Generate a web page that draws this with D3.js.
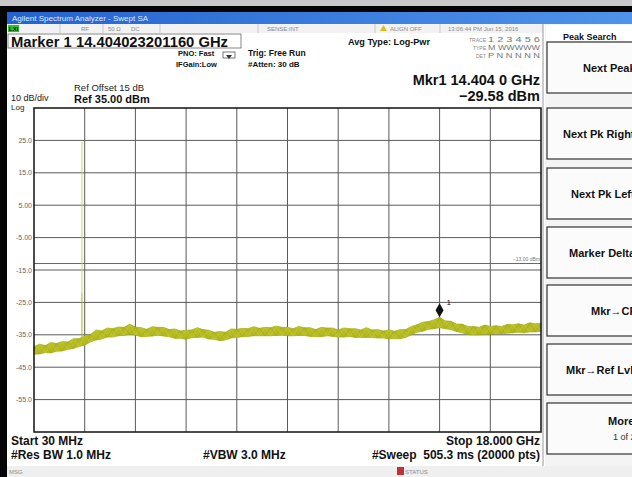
<!DOCTYPE html>
<html lang="en">
<head>
<meta charset="UTF-8">
<title>swept SA</title>
<script src="https://d3js.org/d3.v7.min.js"></script>
<style>
  body { margin: 0; background: #fff; }
  svg { display: block; font-family: "Liberation Sans", Arial, sans-serif; }
  .b { font-weight: bold; fill: #111; }
  .tiny { font-size: 6px; fill: #8a8a8a; }
  .ylab { font-size: 7px; fill: #666; }
  .grid line { stroke: #5a5a5a; stroke-width: 1; }
</style>
</head>
<body>
<svg id="sa" width="632" height="477"></svg>
<script>
// sweep settings
const startGHz = 0.03, stopGHz = 18.0;
const refDbm = 35, dbPerDiv = 10, divisions = 10;
const yTickValues = [25, 15, 5, -5, -15, -25, -35, -45, -55];
const yTickLabels = ["25.0", "15.0", "5.00", "-5.00", "-15.0", "-25.0", "-35.0", "-45.0", "-55.0"];
const displayLineDbm = -13;

// trace envelope, 91 evenly spaced points from start to stop (dBm)
const traceHi = [-38.6,-37.9,-38.3,-37.4,-37.7,-37.1,-37.2,-36.2,-36.2,-35.4,
  -35.0,-33.5,-33.8,-32.9,-33.1,-32.6,-32.7,-31.7,-32.6,-32.8,
  -33.3,-32.5,-32.7,-32.7,-33.4,-33.2,-33.8,-33.6,-33.5,-32.8,
  -33.4,-33.6,-34.2,-34.0,-34.2,-33.2,-33.3,-33.0,-33.1,-32.5,
  -33.0,-32.7,-32.8,-32.3,-32.7,-32.7,-33.1,-32.4,-32.8,-32.8,
  -33.4,-32.7,-32.9,-32.9,-33.5,-32.9,-33.1,-33.1,-33.5,-32.8,
  -33.5,-33.4,-33.8,-33.5,-33.9,-33.4,-33.4,-32.4,-31.9,-31.1,
  -30.9,-30.4,-29.6,-30.7,-30.8,-31.7,-31.7,-32.4,-32.4,-32.7,
  -32.0,-32.4,-32.2,-32.4,-31.8,-31.9,-31.6,-32.0,-31.3,-31.6,-31.4];
const traceLo = [-41.0,-40.9,-40.5,-40.6,-40.1,-40.0,-39.5,-39.2,-38.6,-38.2,
  -37.2,-36.6,-36.3,-35.7,-35.7,-35.3,-35.2,-34.8,-35.1,-35.6,
  -35.5,-35.4,-35.1,-35.4,-35.6,-36.1,-36.1,-36.4,-35.9,-35.8,
  -35.7,-36.3,-36.4,-36.8,-36.6,-36.0,-35.8,-35.6,-35.5,-35.3,
  -35.3,-35.3,-35.3,-35.2,-35.1,-35.3,-35.3,-35.2,-35.2,-35.5,
  -35.6,-35.6,-35.3,-35.5,-35.7,-35.7,-35.5,-35.8,-35.8,-35.8,
  -35.8,-36.0,-36.0,-36.2,-36.2,-36.2,-35.8,-35.0,-34.2,-33.9,
  -33.3,-33.1,-32.8,-33.1,-33.4,-34.0,-34.4,-34.9,-35.0,-35.0,
  -34.8,-34.8,-34.7,-34.7,-34.5,-34.4,-34.2,-34.4,-34.1,-34.1,-33.9];
const spikeGHz = [1.73];
const spikeDbm = [24.5];
const markerGHz = 14.404, markerDbm = -29.58;

const softkeys = ["Next Peak", "Next Pk Right", "Next Pk Left", "Marker Delta", "Mkr\u2192CF", "Mkr\u2192Ref Lvl", "More"];

const svg = d3.select("#sa");
const plot = {left: 34, right: 541, top: 108, bottom: 432};
const x = d3.scaleLinear().domain([startGHz, stopGHz]).range([plot.left, plot.right]);
const y = d3.scaleLinear().domain([refDbm - dbPerDiv * divisions, refDbm]).range([plot.bottom, plot.top]);

// ---- window chrome ----
svg.append("rect").attr("width", 632).attr("height", 477).attr("fill", "#fff");
svg.append("rect").attr("width", 632).attr("height", 6).attr("fill", "#c9c9c9");
svg.append("rect").attr("y", 6).attr("width", 632).attr("height", 6).attr("fill", "#050505");
svg.append("rect").attr("y", 6).attr("width", 7).attr("height", 471).attr("fill", "#050505");

const grad = svg.append("defs").append("linearGradient").attr("id", "tb");
grad.append("stop").attr("offset", "0").attr("stop-color", "#2463cf");
grad.append("stop").attr("offset", "1").attr("stop-color", "#4f94ea");
svg.append("rect").attr("x", 7).attr("y", 12).attr("width", 625).attr("height", 12).attr("fill", "url(#tb)");
svg.append("text").attr("x", 12).attr("y", 21).attr("font-size", 8)
  .attr("fill", "#dfe9ff").text("Agilent Spectrum Analyzer - Swept SA");

// status row
svg.append("rect").attr("x", 7).attr("y", 24).attr("width", 536).attr("height", 9).attr("fill", "#f2f2f2");
svg.append("rect").attr("x", 8).attr("y", 25).attr("width", 11).attr("height", 7).attr("fill", "#2fc12f");
svg.append("text").attr("x", 9).attr("y", 31).attr("font-size", 6).attr("font-weight", "bold").attr("fill", "#1a1a1a").text("LXI");
[60, 103, 160, 258, 375, 440].forEach(sx => {
  svg.append("line").attr("x1", sx).attr("x2", sx).attr("y1", 24).attr("y2", 33).attr("stroke", "#c8c8c8");
});
[["RF", 81], ["50 \u03A9", 108], ["DC", 131], ["SENSE:INT", 267], ["ALIGN OFF", 390], ["13:06:44 PM Jun 15, 2016", 448]]
  .forEach(d => svg.append("text").attr("class", "tiny").attr("x", d[1]).attr("y", 31).text(d[0]));
svg.append("path").attr("d", "M380,31 L383.5,25 L387,31 Z").attr("fill", "#d8c21a");

// ---- annotation text ----
svg.append("rect").attr("x", 8).attr("y", 34).attr("width", 233).attr("height", 14)
  .attr("fill", "#fff").attr("stroke", "#666").attr("stroke-width", 0.8);
svg.append("text").attr("class", "b").attr("x", 11).attr("y", 46.5).attr("font-size", 14)
  .attr("textLength", 217).attr("lengthAdjust", "spacingAndGlyphs").text("Marker 1 14.404023201160 GHz");

svg.append("text").attr("class", "b").attr("x", 178).attr("y", 56).attr("font-size", 7.5).text("PNO: Fast");
svg.append("text").attr("class", "b").attr("x", 176).attr("y", 67).attr("font-size", 7.5).text("IFGain:Low");
svg.append("rect").attr("x", 223).attr("y", 52).attr("width", 12).attr("height", 6).attr("fill", "none").attr("stroke", "#555").attr("stroke-width", 0.8);
svg.append("path").attr("d", "M226,55 L232,55 L229,59 Z").attr("fill", "#333");
svg.append("text").attr("class", "b").attr("x", 248).attr("y", 56).attr("font-size", 8.5).text("Trig: Free Run");
svg.append("text").attr("class", "b").attr("x", 248).attr("y", 67).attr("font-size", 8).text("#Atten: 30 dB");
svg.append("text").attr("class", "b").attr("x", 348).attr("y", 45).attr("font-size", 8.5)
  .attr("textLength", 82).attr("lengthAdjust", "spacingAndGlyphs").text("Avg Type: Log-Pwr");

[["TRACE", "1 2 3 4 5 6", 42], ["TYPE", "M WWWWW", 50], ["DET", "P N N N N N", 58]].forEach(d => {
  svg.append("text").attr("x", 486).attr("y", d[2]).attr("font-size", 5).attr("fill", "#888").attr("text-anchor", "end").text(d[0]);
  svg.append("text").attr("x", 488).attr("y", d[2]).attr("font-size", 7).attr("fill", "#777")
    .attr("textLength", 52).attr("lengthAdjust", "spacingAndGlyphs").text(d[1]);
});

svg.append("text").attr("class", "b").attr("x", 540).attr("y", 85).attr("font-size", 14.5)
  .attr("text-anchor", "end").text("Mkr1 14.404 0 GHz");
svg.append("text").attr("class", "b").attr("x", 540).attr("y", 101).attr("font-size", 14.5)
  .attr("text-anchor", "end").text(d3.format(".2f")(markerDbm) + " dBm");

svg.append("text").attr("x", 74).attr("y", 91).attr("font-size", 9.5).attr("fill", "#222").text("Ref Offset 15 dB");
svg.append("text").attr("class", "b").attr("x", 74).attr("y", 102.5).attr("font-size", 11).text("Ref 35.00 dBm");
svg.append("text").attr("x", 11).attr("y", 101).attr("font-size", 9).attr("fill", "#222").text("10 dB/div");
svg.append("text").attr("x", 11).attr("y", 109.5).attr("font-size", 8).attr("fill", "#222").text("Log");

// ---- graticule ----
const grid = svg.append("g").attr("class", "grid");
const xDivs = d3.range(1, divisions).map(k => startGHz + k * (stopGHz - startGHz) / divisions);
grid.selectAll(".v").data(xDivs).join("line").attr("class", "v")
  .attr("x1", d => x(d)).attr("x2", d => x(d)).attr("y1", plot.top).attr("y2", plot.bottom);
grid.selectAll(".h").data(yTickValues).join("line").attr("class", "h")
  .attr("x1", plot.left).attr("x2", plot.right).attr("y1", d => y(d)).attr("y2", d => y(d));

svg.append("line").attr("x1", plot.left).attr("x2", plot.right)
  .attr("y1", y(displayLineDbm)).attr("y2", y(displayLineDbm)).attr("stroke", "#666").attr("stroke-width", 1);
svg.append("text").attr("x", plot.right - 1).attr("y", y(displayLineDbm) - 3).attr("font-size", 5)
  .attr("text-anchor", "end").attr("fill", "#777").text(d3.format(".2f")(displayLineDbm) + " dBm");

svg.selectAll(".ylab").data(yTickValues).join("text").attr("class", "ylab")
  .attr("x", plot.left - 2).attr("y", d => y(d) + 2.5).attr("text-anchor", "end")
  .text((d, i) => yTickLabels[i]);

// ---- trace ----
const fAt = i => startGHz + i * (stopGHz - startGHz) / (traceHi.length - 1);
const trace = svg.append("g");
spikeGHz.forEach((f, i) => {
  trace.append("line").attr("x1", x(f)).attr("x2", x(f)).attr("y1", y(spikeDbm[i])).attr("y2", y(-22))
    .attr("stroke", "#c9cf6a").attr("stroke-width", 0.9);
  trace.append("line").attr("x1", x(f)).attr("x2", x(f)).attr("y1", y(-22)).attr("y2", y(-38))
    .attr("stroke", "#a9b41a").attr("stroke-width", 1);
});
const band = d3.area().x((d, i) => x(fAt(i))).y0((d, i) => y(traceLo[i])).y1(d => y(d));
trace.append("path").datum(traceHi).attr("d", band)
  .attr("fill", "#b6bc22").attr("stroke", "#a3aa14").attr("stroke-width", 0.7);
[0, 1].forEach(phase => {
  const zig = traceHi.map((d, i) => [x(fAt(i)), y((i + phase) % 2 ? traceLo[i] : d)]);
  trace.append("path").attr("d", d3.line()(zig)).attr("fill", "none")
    .attr("stroke", phase ? "#c4c83a" : "#a2aa10").attr("stroke-width", 0.7);
});

// plot frame
svg.append("rect").attr("x", plot.left).attr("y", plot.top)
  .attr("width", plot.right - plot.left).attr("height", plot.bottom - plot.top)
  .attr("fill", "none").attr("stroke", "#111").attr("stroke-width", 1.5);

// marker
const mx = x(markerGHz), my = y(markerDbm);
svg.append("path").attr("d", `M${mx},${my} L${mx - 4},${my - 7} L${mx},${my - 14} L${mx + 4},${my - 7} Z`).attr("fill", "#111");
svg.append("text").attr("x", mx + 7).attr("y", my - 12).attr("font-size", 8).attr("fill", "#111").text("1");

// ---- bottom annotation ----
svg.append("text").attr("class", "b").attr("x", 11).attr("y", 445).attr("font-size", 12).text("Start 30 MHz");
svg.append("text").attr("class", "b").attr("x", 11).attr("y", 459).attr("font-size", 12).text("#Res BW 1.0 MHz");
svg.append("text").attr("class", "b").attr("x", 203).attr("y", 459).attr("font-size", 12).text("#VBW 3.0 MHz");
svg.append("text").attr("class", "b").attr("x", 540).attr("y", 445).attr("font-size", 12).attr("text-anchor", "end").text("Stop 18.000 GHz");
svg.append("text").attr("class", "b").attr("x", 540).attr("y", 459).attr("font-size", 12).attr("text-anchor", "end")
  .attr("xml:space", "preserve").text("#Sweep  505.3 ms (20000 pts)");

svg.append("rect").attr("x", 7).attr("y", 466).attr("width", 625).attr("height", 11).attr("fill", "#efefef");
svg.append("text").attr("class", "tiny").attr("x", 9).attr("y", 474).text("MSG");
svg.append("rect").attr("x", 397).attr("y", 467).attr("width", 7).attr("height", 8).attr("fill", "#c2303a");
svg.append("text").attr("class", "tiny").attr("x", 405).attr("y", 474).attr("fill", "#b06070").text("STATUS");

// ---- softkey panel (labels run past the window edge, as on the instrument capture) ----
svg.append("line").attr("x1", 543).attr("x2", 543).attr("y1", 24).attr("y2", 466).attr("stroke", "#999");
svg.append("rect").attr("x", 545).attr("y", 24).attr("width", 87).attr("height", 442).attr("fill", "#f4f4f4");
svg.append("rect").attr("x", 546).attr("y", 25).attr("width", 90).attr("height", 16).attr("fill", "#fff");
svg.append("text").attr("class", "b").attr("x", 563).attr("y", 40).attr("font-size", 9).attr("fill", "#222").text("Peak Search");
const keyTop = [42, 108, 168, 227, 285, 344, 403];
const keyH = 51;
const keyTextX = [583, 563, 571, 569, 591, 566, 608];
const keys = svg.append("g").selectAll("g").data(softkeys).join("g");
keys.append("rect").attr("x", 547).attr("y", (d, i) => keyTop[i]).attr("width", 95).attr("height", keyH)
  .attr("fill", "#fbfbfb").attr("stroke", "#333").attr("stroke-width", 1.2);
keys.append("text").attr("class", "b").attr("font-size", 11).attr("fill", "#222")
  .attr("x", (d, i) => keyTextX[i]).attr("y", (d, i) => keyTop[i] + (i === 6 ? 22 : 30)).text(d => d);
svg.append("text").attr("x", 613).attr("y", keyTop[6] + 37).attr("font-size", 9).attr("fill", "#333").text("1 of 2");
</script>
</body>
</html>
